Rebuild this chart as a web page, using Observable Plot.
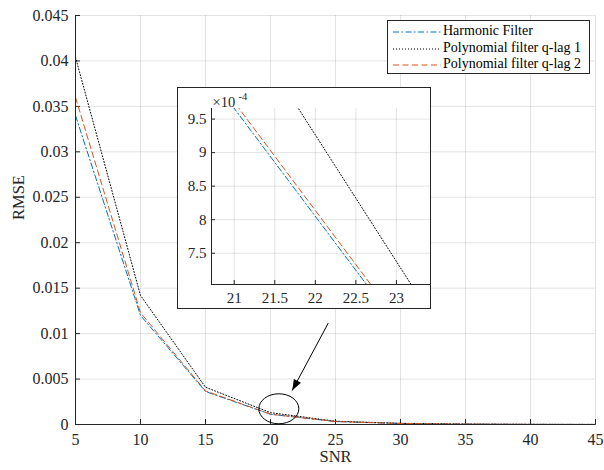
<!DOCTYPE html>
<html>
<head>
<meta charset="utf-8">
<script src="https://cdn.jsdelivr.net/npm/d3@7"></script>
<script src="https://cdn.jsdelivr.net/npm/@observablehq/plot@0.6"></script>
<style>
  html, body { margin: 0; padding: 0; background: white; }
  #wrap { position: relative; width: 604px; height: 470px; font-family: 'Liberation Serif', 'Times New Roman', serif; color: #262626; }
  #inset { position: absolute; left: 177px; top: 87px; width: 254px; height: 222px; box-sizing: border-box; border: 1px solid #262626; background: white; }
  #inset svg { display: block; }
  #legend { position: absolute; left: 387px; top: 20px; width: 203px; height: 54px; box-sizing: border-box; border: 1px solid #262626; background: white; font-size: 14px; }
  .row { position: absolute; left: 0; height: 16px; width: 200px; }
  .row svg { position: absolute; left: 4px; top: 3px; }
  .row span { position: absolute; left: 55px; top: -1px; white-space: nowrap; color: #000; }
</style>
</head>
<body>
<div id="wrap"></div>
<script>
// ---- data ----
const snr = [5, 10, 15, 20, 25, 30, 35, 40, 45];
const harmonic = [0.0340, 0.0120, 0.00363, 0.001127, 0.000322, 0.00011, 0.00004, 0.000015, 0.000006];
const polyLag1 = [0.0404, 0.0142, 0.0041, 0.001304, 0.00036, 0.00013, 0.00005, 0.00002, 0.000008];
const polyLag2 = [0.0360, 0.0123, 0.0037, 0.001137, 0.000329, 0.00011, 0.00004, 0.000015, 0.000006];
const seriesNames = ["Harmonic Filter", "Polynomial filter q-lag 1", "Polynomial filter q-lag 2"];

const xTicks = [5, 10, 15, 20, 25, 30, 35, 40, 45];
const yTicks = [0, 0.005, 0.01, 0.015, 0.02, 0.025, 0.03, 0.035, 0.04, 0.045];
const xDomain = [5, 45];
const yDomain = [0, 0.045];

const insetXDomain = [20.72, 23.42];
const insetYDomain = [7.034e-4, 9.658e-4];
const insetXTicks = [21, 21.5, 22, 22.5, 23];
const insetYTicks = [7.5e-4, 8e-4, 8.5e-4, 9e-4, 9.5e-4];

// annotation (data units)
const arrowFrom = [{x: 24.44, y: 0.01115}];
const arrowTo = [{x: 21.67, y: 0.00374}];
const ellipseAt = [{x: 20.64, y: 0.00173}];

// ---- styles ----
const colors = ["#0072BD", "#000000", "#D95319"];
const dashes = ["6,2.5,1.5,2.5", "1,2", "6,3.5"];
const axisColor = "#262626";
const font = "'Liberation Serif', 'Times New Roman', serif";

const rows = [];
snr.forEach((s, i) => {
  rows.push({snr: s, value: harmonic[i], series: seriesNames[0]});
  rows.push({snr: s, value: polyLag1[i], series: seriesNames[1]});
  rows.push({snr: s, value: polyLag2[i], series: seriesNames[2]});
});

function seriesLines(extra = {}) {
  return seriesNames.map((name, k) =>
    Plot.line(rows.filter(d => d.series === name), {
      x: "snr", y: "value", stroke: colors[k], strokeWidth: 1,
      strokeDasharray: dashes[k], ...extra
    })
  );
}

const ellipseSymbol = {
  draw(ctx, size) {
    const r = Math.sqrt(size / Math.PI), rx = r, ry = r * 0.75, k = 0.5523;
    ctx.moveTo(rx, 0);
    ctx.bezierCurveTo(rx, ry * k, rx * k, ry, 0, ry);
    ctx.bezierCurveTo(-rx * k, ry, -rx, ry * k, -rx, 0);
    ctx.bezierCurveTo(-rx, -ry * k, -rx * k, -ry, 0, -ry);
    ctx.bezierCurveTo(rx * k, -ry, rx, -ry * k, rx, 0);
    ctx.closePath();
  }
};
const arrowAngle = Math.atan2(67.3, -36); // screen direction of the arrow
const headSymbol = {
  draw(ctx) {
    const ux = Math.cos(arrowAngle), uy = Math.sin(arrowAngle);
    const L = 11, W = 4;
    const bx = -ux * L, by = -uy * L;
    ctx.moveTo(0, 0);
    ctx.lineTo(bx - uy * W, by + ux * W);
    ctx.lineTo(bx + uy * W, by - ux * W);
    ctx.closePath();
  }
};

const main = Plot.plot({
  width: 604, height: 470,
  marginLeft: 75, marginRight: 9, marginTop: 15, marginBottom: 46,
  style: {fontFamily: font, fontSize: "16px", color: axisColor, background: "white", overflow: "visible"},
  x: {domain: xDomain},
  y: {domain: yDomain},
  marks: [
    Plot.gridX(xTicks, {stroke: "#000", strokeOpacity: 0.11}),
    Plot.gridY(yTicks, {stroke: "#000", strokeOpacity: 0.11}),
    Plot.axisX({ticks: xTicks, tickSize: -5, tickPadding: 14, stroke: axisColor, fill: axisColor, label: null, tickFormat: d => String(d), fontFamily: font}),
    Plot.axisY({ticks: yTicks, tickSize: -5, tickPadding: 12, stroke: axisColor, fill: axisColor, label: null, tickFormat: d => String(+d.toFixed(3)), fontFamily: font}),
    ...seriesLines(),
    Plot.ruleX([xDomain[0]], {stroke: axisColor}),
    Plot.ruleY([yDomain[0]], {stroke: axisColor}),
    Plot.link(arrowFrom, {x1: "x", y1: "y", x2: () => arrowTo[0].x, y2: () => arrowTo[0].y, stroke: "#000", strokeWidth: 1}),
    Plot.dot(arrowTo, {x: "x", y: "y", symbol: headSymbol, fill: "#000", stroke: "none"}),
    Plot.dot(ellipseAt, {x: "x", y: "y", r: 20, symbol: ellipseSymbol, stroke: "#000", fill: "none", strokeWidth: 1}),
    Plot.text(["SNR"], {text: d => d, frameAnchor: "bottom", dy: 37, fontSize: 16.5, fill: axisColor, fontFamily: font}),
    Plot.text(["RMSE"], {text: d => d, frameAnchor: "left", rotate: -90, dx: -57, fontSize: 16.5, fill: axisColor, fontFamily: font})
  ]
});

const inset = Plot.plot({
  width: 252, height: 220,
  marginLeft: 33, marginRight: 0, marginTop: 20, marginBottom: 24,
  style: {fontFamily: font, fontSize: "15px", color: axisColor, background: "white", overflow: "visible"},
  x: {domain: insetXDomain},
  y: {domain: insetYDomain},
  marks: [
    Plot.gridX(insetXTicks, {stroke: "#000", strokeOpacity: 0.11}),
    Plot.gridY(insetYTicks, {stroke: "#000", strokeOpacity: 0.11}),
    Plot.axisX({ticks: insetXTicks, tickSize: -4, tickPadding: 12, stroke: axisColor, fill: axisColor, label: null, tickFormat: d => String(d), fontFamily: font}),
    Plot.axisY({ticks: insetYTicks, tickSize: -4, tickPadding: 9, stroke: axisColor, fill: axisColor, label: null, tickFormat: d => String(+(d * 1e4).toFixed(2)), fontFamily: font}),
    ...seriesLines({clip: true}),
    Plot.ruleX([insetXDomain[0]], {stroke: axisColor}),
    Plot.ruleY([insetYDomain[0]], {stroke: axisColor}),
    Plot.text(["×10"], {text: d => d, frameAnchor: "top-left", textAnchor: "start", lineAnchor: "bottom", dx: 1, dy: -2, fontSize: 14.5, fill: axisColor, fontFamily: font}),
    Plot.text(["-4"], {text: d => d, frameAnchor: "top-left", textAnchor: "start", lineAnchor: "bottom", dx: 27, dy: -9, fontSize: 10.5, fill: axisColor, fontFamily: font})
  ]
});

const wrap = document.getElementById("wrap");
wrap.appendChild(main);

const insetDiv = document.createElement("div");
insetDiv.id = "inset";
insetDiv.appendChild(inset);
wrap.appendChild(insetDiv);

const legend = document.createElement("div");
legend.id = "legend";
const rowTops = [3, 19.5, 35.5];
seriesNames.forEach((name, k) => {
  const row = document.createElement("div");
  row.className = "row";
  row.style.top = rowTops[k] + "px";
  const svg = d3.create("svg").attr("width", 50).attr("height", 10);
  svg.append("line").attr("x1", 1).attr("x2", 49).attr("y1", 5).attr("y2", 5)
    .attr("stroke", colors[k]).attr("stroke-width", 1).attr("stroke-dasharray", dashes[k]);
  row.appendChild(svg.node());
  const span = document.createElement("span");
  span.textContent = name;
  row.appendChild(span);
  legend.appendChild(row);
});
wrap.appendChild(legend);
</script>
</body>
</html>
